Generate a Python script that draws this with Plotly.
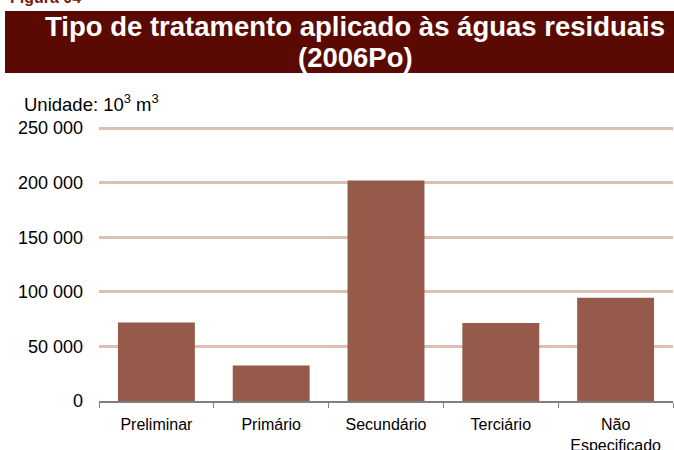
import plotly.graph_objects as go

# Treatment types and treated volumes (10^3 m^3), 2006Po
categories = ["Preliminar", "Primário", "Secundário", "Terciário", "Não<br>Especificado"]
volumes = [72000, 32500, 202000, 71500, 94500]
tick_values = [0, 50000, 100000, 150000, 200000, 250000]
tick_labels = ["0", "50 000", "100 000", "150 000", "200 000", "250 000"]
title_lines = ["Tipo de tratamento aplicado às águas residuais", "(2006Po)"]

W, H = 674, 450
M_L, M_R, M_T, M_B = 99, 1, 126, 49
PW, PH = W - M_L - M_R, H - M_T - M_B
Y_MAX = 250000 * PH / (PH - 2)  # small headroom so the top gridline is drawn


def px(x):
    return (x - M_L) / PW


def py(y):
    return (H - M_B - y) / PH


FONT = "Arial, Liberation Sans, sans-serif"

fig = go.Figure(
    go.Bar(
        x=categories,
        y=volumes,
        marker=dict(color="#955A4A", line=dict(width=0)),
        width=0.67,
    )
)

fig.update_layout(
    width=W,
    height=H,
    margin=dict(l=M_L, r=M_R, t=M_T, b=M_B),
    paper_bgcolor="white",
    plot_bgcolor="white",
    showlegend=False,
    font=dict(family=FONT, color="#000000"),
    xaxis=dict(
        showline=True,
        linecolor="#7f7f7f",
        linewidth=2,
        ticks="outside",
        tickcolor="#7f7f7f",
        ticklen=5,
        tickson="boundaries",
        tickfont=dict(size=16, family=FONT),
        ticklabelstandoff=8,
        automargin=False,
        range=[-0.5, 4.5],
    ),
    yaxis=dict(
        range=[0, Y_MAX],
        tickvals=tick_values,
        ticktext=tick_labels,
        showgrid=True,
        gridcolor="#DDBFB3",
        gridwidth=2.5,
        zeroline=False,
        showline=False,
        tickfont=dict(size=18, family=FONT),
        ticklabelstandoff=15,
        automargin=False,
    ),
    bargap=0.33,
)

# Dark red title banner
fig.add_shape(
    type="rect",
    xref="paper",
    yref="paper",
    x0=px(5),
    x1=px(674),
    y0=py(73),
    y1=py(11),
    fillcolor="#5A0A02",
    line=dict(width=0),
    layer="below",
)

# Two title lines, set tighter than the default line spacing
for line, y_px in zip(title_lines, [27, 58]):
    fig.add_annotation(
        xref="paper",
        yref="paper",
        x=px(355),
        y=py(y_px),
        text=f"<b>{line}</b>",
        showarrow=False,
        font=dict(size=27.5, color="white", family=FONT),
        xanchor="center",
        yanchor="middle",
    )

fig.add_annotation(
    xref="paper",
    yref="paper",
    x=px(8),
    y=py(8),
    text="<b>Figura 04</b>",
    showarrow=False,
    font=dict(size=16, color="#7A1A0A", family=FONT),
    xanchor="left",
    yanchor="bottom",
)

fig.add_annotation(
    xref="paper",
    yref="paper",
    x=px(22),
    y=py(103),
    text="Unidade: 10<sup>3</sup> m<sup>3</sup>",
    showarrow=False,
    font=dict(size=18.5, family=FONT),
    xanchor="left",
    yanchor="middle",
)

fig.write_html("out.html")
